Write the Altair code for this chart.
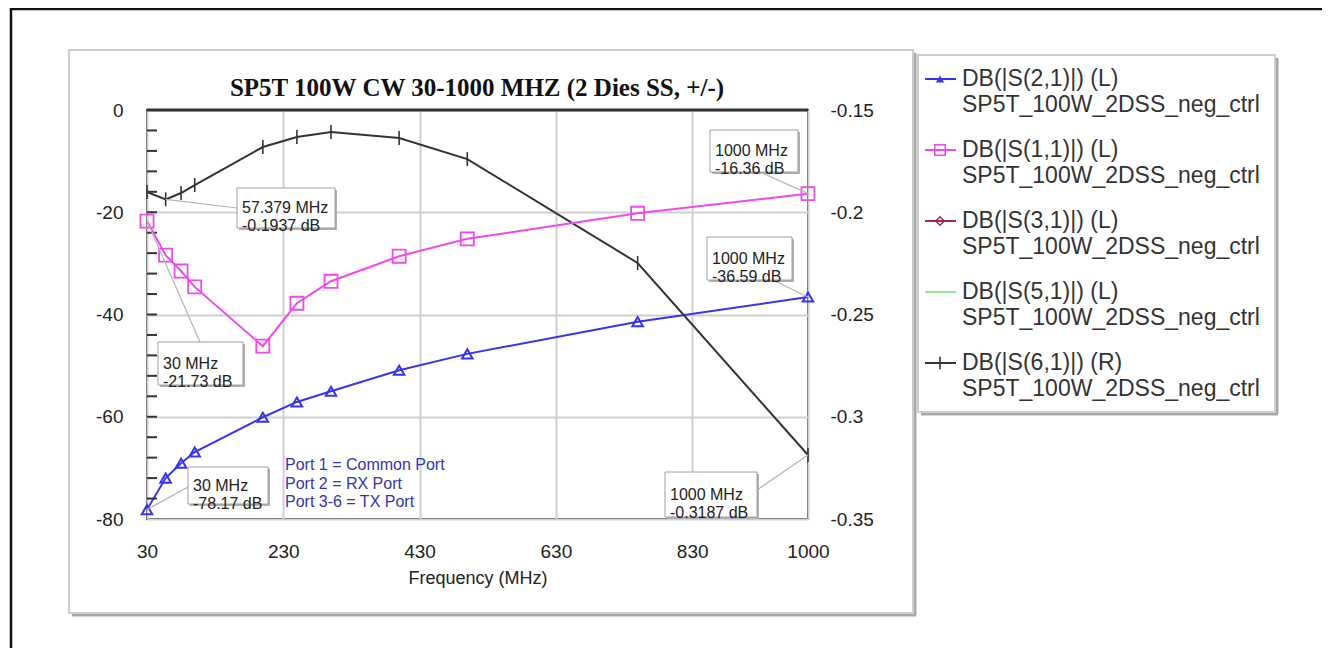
import altair as alt
import pandas as pd

# ---------------- data ----------------
freq = [30, 57.379, 80, 100, 200, 250, 300, 400, 500, 750, 1000]
s21 = [-78.17, -72.0, -69.1, -66.9, -60.1, -57.1, -55.0, -50.9, -47.7, -41.4, -36.59]
s11 = [-21.73, -28.4, -31.5, -34.6, -46.2, -37.8, -33.5, -28.6, -25.2, -20.2, -16.36]
s61 = [-0.1901, -0.1937, -0.1906, -0.1867, -0.1681, -0.1632, -0.1608, -0.1637, -0.1740, -0.2248, -0.3187]

x_ticks = [30, 230, 430, 630, 830, 1000]
left_ticks = [0, -20, -40, -60, -80]
right_ticks = [-0.15, -0.2, -0.25, -0.3, -0.35]
minor_ticks = [-4, -8, -12, -16, -20, -24, -28, -32, -36, -40,
               -44, -48, -52, -56, -60, -64, -68, -72, -76]

chart_title = "SP5T 100W CW 30-1000 MHZ (2 Dies SS, +/-)"
x_title = "Frequency (MHz)"
legend_names = ["DB(|S(2,1)|) (L)", "DB(|S(1,1)|) (L)", "DB(|S(3,1)|) (L)",
                "DB(|S(5,1)|) (L)", "DB(|S(6,1)|) (R)"]
legend_sub = "SP5T_100W_2DSS_neg_ctrl"
port_notes = ["Port 1 = Common Port", "Port 2 = RX Port", "Port 3-6 = TX Port"]

# ---------------- styles / layout ----------------
FONT = "Liberation Sans"
BLUE = "#3535ee"
PINK = "#ee48ee"
DARKRED = "#a02850"
GREEN = "#90e890"
BLACK = "#333333"
GRID = "#cfcfcf"

OX, OY = 147, 110          # page position of plot origin
W, H = 661, 409


def X(p):
    return p - OX


def Y(p):
    return p - OY


df = pd.DataFrame({"freq": freq, "s21": s21, "s11": s11, "s61": s61})
minor_df = pd.DataFrame({"t": minor_ticks})

xs = alt.Scale(domain=[30, 1000], nice=False, zero=False)
yl = alt.Scale(domain=[-80, 0], nice=False, zero=False)
yr = alt.Scale(domain=[-0.35, -0.15], nice=False, zero=False)

x_axis = alt.Axis(values=x_ticks, labelExpr="toString(datum.value)", grid=True,
                  gridColor=GRID, gridWidth=2, domain=False, ticks=False,
                  labelFont=FONT, labelFontSize=19, labelColor="#222",
                  labelPadding=23, labelFlush=False, labelOverlap=False,
                  title=x_title, titleFont=FONT,
                  titleFontSize=18, titleFontWeight="normal", titleColor="#222",
                  titlePadding=8)
left_axis = alt.Axis(values=left_ticks, labelExpr="toString(datum.value)",
                     orient="left", grid=True, gridColor=GRID, gridWidth=2,
                     domain=False, ticks=False, labelFont=FONT, labelFontSize=19,
                     labelColor="#222", labelPadding=24, labelFlush=False,
                     title=None)
right_axis = alt.Axis(values=right_ticks, labelExpr="toString(datum.value)",
                      orient="right", grid=False, domain=False, ticks=False,
                      labelFont=FONT, labelFontSize=19, labelColor="#222",
                      labelPadding=22, labelFlush=False, title=None)


def FX():
    # same x definition (and axis) everywhere so the shared axis merges cleanly
    return alt.X("freq:Q", scale=xs, axis=x_axis, title=x_title)


def vchart():
    return alt.Chart(pd.DataFrame({"k": [0]}))


def rect(x0, y0, x1, y1, **kw):
    return vchart().mark_rect(**kw).encode(
        x=alt.value(X(x0)), x2=alt.value(X(x1)),
        y=alt.value(Y(y0)), y2=alt.value(Y(y1)))


def line(x0, y0, x1, y1, color, width):
    return vchart().mark_rule(color=color, strokeWidth=width).encode(
        x=alt.value(X(x0)), x2=alt.value(X(x1)),
        y=alt.value(Y(y0)), y2=alt.value(Y(y1)))


def text(x, y, s, size, color="#333", font=FONT, weight="normal", align="left", **kw):
    return vchart().mark_text(text=s, font=font, fontSize=size, color=color,
                              fontWeight=weight, align=align, baseline="middle", **kw).encode(
        x=alt.value(X(x)), y=alt.value(Y(y)))


layers = []

# ---------------- data layers with axes first ----------------
layers.append(
    alt.Chart(df).mark_line(color=BLUE, strokeWidth=2).encode(
        x=FX(), y=alt.Y("s21:Q", scale=yl, axis=left_axis)))
layers.append(
    alt.Chart(df).mark_line(color=BLACK, strokeWidth=2).encode(
        x=FX(), y=alt.Y("s61:Q", scale=yr, axis=right_axis)))

# ---------------- background decorations ----------------
layers += [
    line(11, 9, 1330, 9, "#111", 2.5),
    line(11, 8, 11, 660, "#111", 2.5),
    line(72, 615, 916, 615, "#a8a8a8", 3),
    line(915, 53, 915, 615, "#a8a8a8", 3),
    rect(69, 50, 913, 613, fillOpacity=0, stroke="#cccccc", strokeWidth=2),
    line(921, 414, 1278, 414, "#a8a8a8", 3),
    line(1277, 58, 1277, 414, "#a8a8a8", 3),
    rect(918, 55, 1275, 412, fill="white", stroke="#cccccc", strokeWidth=2),
]

layers += [
    alt.Chart(minor_df).mark_rule(color=BLACK, strokeWidth=2).encode(
        y=alt.Y("t:Q", scale=yl, axis=None), x=alt.value(0), x2=alt.value(10)),
    alt.Chart(df).mark_point(shape="triangle-up", filled=False, color=BLUE,
                             strokeWidth=2, size=110, opacity=1).encode(
        x=FX(), y=alt.Y("s21:Q", scale=yl, axis=None)),
    alt.Chart(df).mark_line(color=PINK, strokeWidth=2).encode(
        x=FX(), y=alt.Y("s11:Q", scale=yl, axis=None)),
    alt.Chart(df).mark_point(shape="square", filled=False, color=PINK,
                             strokeWidth=1.8, size=170, opacity=1).encode(
        x=FX(), y=alt.Y("s11:Q", scale=yl, axis=None)),
    alt.Chart(df).mark_point(shape="M0,-1L0,1", filled=False, stroke=BLACK,
                             strokeWidth=1.6, size=196, opacity=1).encode(
        x=FX(), y=alt.Y("s61:Q", scale=yr, axis=None)),
    line(OX, OY, OX + W, OY, BLACK, 3),
]

# annotations: (column, index, box, leader anchor) -- box/anchor are page pixels
annotations = [
    ("s61", 1, (237, 188, 335, 228), (237, 208)),
    ("s11", 0, (158, 342, 243, 385), (200, 342)),
    ("s21", 0, (188, 467, 268, 504), (188, 487)),
    ("s11", 10, (710, 130, 798, 172), (760, 172)),
    ("s21", 10, (707, 237, 792, 280), (773, 280)),
    ("s61", 10, (665, 472, 757, 517), (757, 490)),
]

for col, idx, box, anc in annotations:
    sc = yr if col == "s61" else yl
    sub = df.iloc[[idx]]
    layers.append(
        alt.Chart(sub).mark_rule(color="#b4b4b4", strokeWidth=1.2).encode(
            x=FX(), y=alt.Y(col + ":Q", scale=sc, axis=None),
            x2=alt.value(X(anc[0])), y2=alt.value(Y(anc[1]))))

for col, idx, box, anc in annotations:
    x0, y0, x1, y1 = box
    label = f"{df['freq'][idx]:g} MHz\n{df[col][idx]:g} dB"
    layers += [
        rect(x0 + 2, y0 + 2, x1 + 2, y1 + 2, fill="#b0b0b0"),
        rect(x0, y0, x1, y1, fill="white", stroke="#a0a0a0", strokeWidth=1),
        text(x0 + 5, (y0 + y1) / 2, label, 16, color="#222", lineBreak="\n",
             lineHeight=18),
    ]

for i, note in enumerate(port_notes):
    layers.append(text(285, 465 + 18.5 * i, note, 16, color="#3434b0"))

layers.append(text(477, 88, chart_title, 25, color="#111",
                   font="Liberation Serif", weight="bold", align="center"))

leg_colors = [BLUE, PINK, DARKRED, GREEN, BLACK]
leg_marks = [
    dict(shape="triangle-up", filled=True, size=70),
    dict(shape="square", filled=False, size=110, strokeWidth=1.5),
    dict(shape="diamond", filled=False, size=70, strokeWidth=1.5),
    None,
    dict(shape="M0,-1L0,1", filled=False, size=160, strokeWidth=1.6),
]
for i, name in enumerate(legend_names):
    ly = 79 + 71 * i
    layers.append(line(925, ly, 956, ly, leg_colors[i], 2))
    if leg_marks[i] is not None:
        layers.append(
            vchart().mark_point(color=leg_colors[i], opacity=1, **leg_marks[i]).encode(
                x=alt.value(X(940)), y=alt.value(Y(ly))))
    layers.append(text(962, ly, name, 23, color="#333"))
    layers.append(text(962, ly + 26, legend_sub, 23, color="#333"))

chart = alt.layer(*layers).resolve_scale(y="independent").properties(
    width=W, height=H,
    autosize=alt.AutoSizeParams(type="none"),
    padding={"left": OX - 8, "top": OY - 8, "right": 1314 - (OX - 8) - W,
             "bottom": 640 - (OY - 8) - H},
    background="white",
).configure_view(stroke=BLACK, strokeWidth=2)

chart.save("out.html", embed_options={"renderer": "svg", "actions": False})
